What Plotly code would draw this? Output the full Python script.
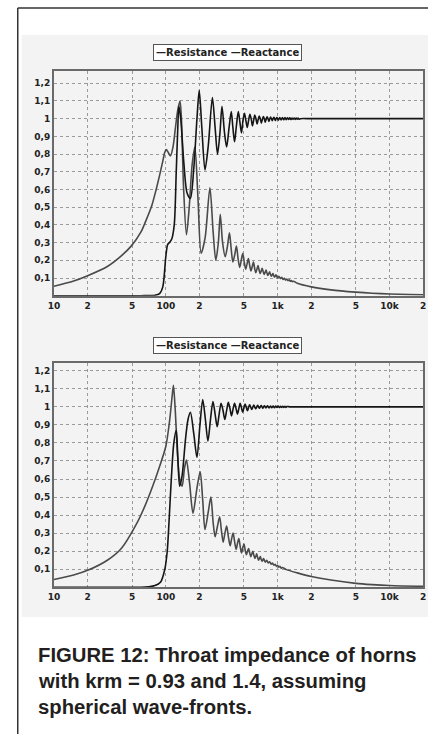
import plotly.graph_objects as go

# ---------------- data ----------------
# Top chart (krm = 0.93)
top_res_f = [10, 30, 60, 80, 88, 94, 100, 104, 108, 113, 119, 124, 128, 131, 136, 145, 155, 166,
             178, 190, 199, 210, 224, 240, 261, 276, 290, 305, 318, 335, 350, 368, 385, 398, 412,
             428, 445, 460, 475, 490, 505, 520, 535, 550, 565, 580, 595, 610, 625, 640, 655, 670,
             685, 700, 715, 730, 745, 760, 775, 790, 805, 820, 835, 850, 865, 880, 895, 910, 925,
             940, 955, 970, 985, 1000, 1015, 1045, 1075, 1105, 1135, 1165, 1195, 1225, 1255, 1285,
             1315, 1345, 1375, 1405, 1435, 1465, 1495, 1525, 1555, 1600, 2000, 5000, 10000, 20000]
top_res_v = [0.0, 0.0, 0.0, 0.003, 0.012, 0.05, 0.22, 0.29, 0.30, 0.32, 0.40, 0.70, 0.95, 1.07, 1.0, 0.75, 0.58, 0.55,
             0.72, 1.0, 1.16, 0.95, 0.71, 0.85, 1.12, 0.95, 0.80, 0.92, 1.07, 0.92, 0.84, 0.95, 1.04, 0.95, 0.87,
             0.96, 1.04, 0.98, 0.92, 0.99, 1.03, 0.99, 0.95, 0.99, 1.025, 1.0, 0.96, 0.99, 1.02, 1.0, 0.97, 0.995,
             1.015, 1.0, 0.975, 0.995, 1.012, 1.0, 0.98, 0.997, 1.01, 1.0, 0.985, 0.998, 1.009, 1.0, 0.988, 0.999, 1.008,
             1.0, 0.99, 1.0, 1.007, 1.0, 0.992, 1.007, 0.993, 1.006, 0.994, 1.006, 0.994, 1.005, 0.995, 1.005,
             0.995, 1.004, 0.996, 1.004, 0.996, 1.003, 0.997, 1.003, 0.997, 1.0, 1.0, 1.0, 1.0, 1.0]

top_rea_f = [10, 15, 20, 30, 40, 49, 60, 67, 75, 82, 88, 94, 98, 101, 105, 110, 116, 122, 128, 134,
             138, 144, 153, 162, 172, 182, 194, 207, 225, 248, 265, 280, 295, 307, 322, 340, 356, 371,
             385, 398, 413, 428, 443, 458, 473, 488, 503, 518, 533, 548, 563, 578, 593, 608, 623, 638,
             653, 668, 683, 698, 713, 728, 743, 758, 773, 788, 803, 818, 833, 848, 863, 878, 893, 908,
             923, 938, 953, 968, 983, 998, 1013, 1028, 1058, 1088, 1118, 1148, 1178, 1208, 1238, 1268,
             1298, 1328, 1358, 1388, 1500, 2000, 3000, 5000, 7000, 10000, 15000, 20000]
top_rea_v = [0.053, 0.083, 0.113, 0.165, 0.225, 0.28, 0.36, 0.43, 0.51, 0.60, 0.68, 0.76, 0.81, 0.825, 0.81, 0.79, 0.84, 0.95, 1.05, 1.10,
             1.0, 0.62, 0.345, 0.50, 0.74, 0.84, 0.55, 0.24, 0.33, 0.61, 0.36, 0.20, 0.30, 0.46, 0.30, 0.22, 0.28, 0.355,
             0.26, 0.19, 0.23, 0.28, 0.21, 0.16, 0.20, 0.24, 0.19, 0.15, 0.18, 0.21, 0.17, 0.14, 0.165, 0.19, 0.155, 0.13,
             0.15, 0.17, 0.145, 0.125, 0.14, 0.155, 0.135, 0.12, 0.132, 0.145, 0.128, 0.115, 0.125, 0.135, 0.12, 0.11,
             0.118, 0.125, 0.113, 0.105, 0.111, 0.118, 0.108, 0.10, 0.105, 0.11, 0.097, 0.104, 0.092, 0.098, 0.088, 0.094,
             0.085, 0.09, 0.082, 0.086, 0.079, 0.082, 0.07, 0.05, 0.033, 0.02, 0.014, 0.01, 0.007, 0.005]

# Bottom chart (krm = 1.4)
bot_res_f = [10, 40, 60, 70, 80, 90, 98, 103, 107, 112, 118, 124, 128, 133, 140, 150, 158, 166,
             178, 190, 202, 214, 226, 238, 251, 264, 276, 288, 300, 312, 325, 337, 350, 362, 375,
             387, 400, 412, 425, 437, 450, 462, 475, 487, 500, 512, 525, 537, 550, 562, 575, 587,
             600, 612, 625, 637, 650, 662, 675, 687, 700, 712, 725, 737, 750, 762, 775, 787, 800,
             812, 825, 837, 862, 887, 912, 937, 962, 987, 1012, 1037, 1062, 1087, 1112, 1137, 1162,
             1187, 1212, 1300, 2000, 5000, 10000, 20000]
bot_res_v = [0.0, 0.0, 0.0, 0.003, 0.01, 0.03, 0.10, 0.20, 0.37, 0.60, 0.80, 0.87, 0.72, 0.56, 0.62, 0.82, 0.93, 0.97,
             0.85, 0.72, 0.90, 1.04, 0.93, 0.81, 0.93, 1.03, 0.96, 0.89, 0.96, 1.02, 0.98, 0.93, 0.98, 1.025, 0.99,
             0.95, 0.99, 1.02, 0.99, 0.96, 0.99, 1.02, 0.995, 0.97, 0.995, 1.015, 0.997, 0.978, 0.997, 1.012, 0.998, 0.985,
             0.998, 1.01, 0.999, 0.99, 0.999, 1.008, 1.0, 0.992, 1.0, 1.007, 1.0, 0.993, 1.0, 1.006, 1.0, 0.994, 1.0,
             1.006, 1.0, 0.994, 1.005, 0.995, 1.005, 0.995, 1.004, 0.996, 1.004, 0.996, 1.003, 0.997, 1.003, 0.997, 1.003,
             0.997, 1.002, 1.0, 1.0, 1.0, 1.0, 1.0]

bot_rea_f = [10, 15, 20, 30, 40, 55, 65, 76, 88, 100, 108, 114, 117, 121, 127, 133, 140, 147, 153,
             163, 175, 190, 203, 214, 224, 240, 253, 265, 276, 290, 303, 315, 326, 338, 350, 363,
             376, 388, 400, 413, 426, 438, 450, 463, 476, 488, 500, 513, 526, 538, 550, 563, 576,
             588, 600, 613, 626, 638, 650, 663, 676, 688, 700, 713, 726, 738, 750, 763, 776, 788,
             800, 825, 850, 875, 900, 925, 950, 975, 1000, 1025, 1050, 1075, 1100, 1200, 1500, 2000,
             3000, 5000, 7000, 10000, 20000]
bot_rea_v = [0.043, 0.068, 0.094, 0.15, 0.215, 0.354, 0.45, 0.557, 0.67, 0.78, 0.92, 1.06, 1.12, 1.0, 0.75, 0.60, 0.56, 0.66, 0.705,
             0.58, 0.41, 0.55, 0.64, 0.48, 0.32, 0.42, 0.50, 0.36, 0.28, 0.34, 0.39, 0.31, 0.25, 0.30, 0.34, 0.28,
             0.23, 0.27, 0.30, 0.25, 0.21, 0.245, 0.27, 0.225, 0.19, 0.22, 0.24, 0.205, 0.18, 0.20, 0.215, 0.19, 0.17,
             0.185, 0.20, 0.178, 0.16, 0.172, 0.185, 0.165, 0.15, 0.16, 0.17, 0.155, 0.145, 0.152, 0.16, 0.148, 0.14, 0.145,
             0.15, 0.135, 0.142, 0.128, 0.134, 0.122, 0.128, 0.116, 0.122, 0.111, 0.116, 0.106, 0.11, 0.098, 0.08, 0.06,
             0.04, 0.022, 0.015, 0.01, 0.005]

x_tickvals = [10, 20, 50, 100, 200, 500, 1000, 2000, 5000, 10000, 20000]
x_ticktext = ["10", "2", "5", "100", "2", "5", "1k", "2", "5", "10k", "2"]
y_tickvals = [0.1, 0.2, 0.3, 0.4, 0.5, 0.6, 0.7, 0.8, 0.9, 1.0, 1.1, 1.2]
y_ticktext = ["0,1", "0,2", "0,3", "0,4", "0,5", "0,6", "0,7", "0,8", "0,9", "1", "1,1", "1,2"]

legend_text = "—Resistance —Reactance"
caption_lines = ["FIGURE 12: Throat impedance of horns",
                 "with krm = 0.93 and 1.4, assuming",
                 "spherical wave-fronts."]

# ---------------- figure ----------------
W, H = 431, 734
def fx(p):
    return p / W
def fy(p):
    return 1 - p / H

RES_COLOR = "#151515"
REA_COLOR = "#4a4a4a"
LW = 1.6

fig = go.Figure()
fig.add_trace(go.Scatter(x=top_rea_f, y=top_rea_v, mode="lines", name="Reactance",
                         line=dict(color=REA_COLOR, width=LW, shape="spline", smoothing=0.8),
                         xaxis="x", yaxis="y", showlegend=False))
fig.add_trace(go.Scatter(x=top_res_f, y=top_res_v, mode="lines", name="Resistance",
                         line=dict(color=RES_COLOR, width=LW, shape="spline", smoothing=0.8),
                         xaxis="x", yaxis="y", showlegend=False))
fig.add_trace(go.Scatter(x=bot_rea_f, y=bot_rea_v, mode="lines", name="Reactance",
                         line=dict(color=REA_COLOR, width=LW, shape="spline", smoothing=0.8),
                         xaxis="x2", yaxis="y2", showlegend=False))
fig.add_trace(go.Scatter(x=bot_res_f, y=bot_res_v, mode="lines", name="Resistance",
                         line=dict(color=RES_COLOR, width=LW, shape="spline", smoothing=0.8),
                         xaxis="x2", yaxis="y2", showlegend=False))

tick_font = dict(family="DejaVu Sans", size=9, color="#222222", weight="bold")

def xaxis_cfg(anchor):
    return dict(type="log", range=[1, 4.30103], domain=[fx(49), fx(426)], anchor=anchor,
                tickvals=x_tickvals, ticktext=x_ticktext, tickfont=tick_font,
                showgrid=True, gridcolor="#9a9a9a", griddash="dot", gridwidth=1,
                showline=True, linecolor="#6a6a6a", linewidth=2, mirror=True,
                ticks="", zeroline=False, fixedrange=True)

def yaxis_cfg(anchor, top, bottom, ymax):
    return dict(range=[0, ymax], domain=[fy(bottom), fy(top)], anchor=anchor,
                tickvals=y_tickvals, ticktext=y_ticktext, tickfont=tick_font,
                showgrid=True, gridcolor="#9a9a9a", griddash="dot", gridwidth=1,
                showline=True, linecolor="#6a6a6a", linewidth=2, mirror=True,
                ticks="", zeroline=False, fixedrange=True)

shapes = [
    # light grey panel behind both charts
    dict(type="rect", xref="paper", yref="paper", x0=fx(16), x1=1.0, y0=fy(617), y1=fy(35),
         fillcolor="#f3f3f3", line=dict(width=0), layer="below"),
    # page border lines
    dict(type="line", xref="paper", yref="paper", x0=fx(12), x1=1.0, y0=fy(8), y1=fy(8),
         line=dict(color="#333333", width=1.5)),
    dict(type="line", xref="paper", yref="paper", x0=fx(12), x1=fx(12), y0=0, y1=fy(8),
         line=dict(color="#333333", width=1.5)),
]

annotations = []
for cy in (52.5, 345):
    annotations.append(dict(xref="paper", yref="paper", x=fx(226), y=fy(cy), xanchor="center", yanchor="middle",
                            text=legend_text, showarrow=False,
                            font=dict(family="DejaVu Sans", size=10, color="#222222", weight="bold"),
                            bgcolor="#ffffff", bordercolor="#555555", borderwidth=1, borderpad=2))

for i, line in enumerate(caption_lines):
    annotations.append(dict(xref="paper", yref="paper", x=fx(31), y=fy(655 + 26 * i), xanchor="left", yanchor="middle",
                            text=line, showarrow=False,
                            font=dict(family="Liberation Sans", size=20.3, color="#231f20", weight="bold")))

fig.update_layout(
    width=W, height=H, margin=dict(l=0, r=0, t=0, b=0),
    paper_bgcolor="#ffffff", plot_bgcolor="#ffffff",
    xaxis=xaxis_cfg("y"), yaxis=yaxis_cfg("x", 70.7, 295.7, 1.271),
    xaxis2=xaxis_cfg("y2"), yaxis2=yaxis_cfg("x2", 363, 587.3, 1.243),
    shapes=shapes, annotations=annotations, showlegend=False,
)

fig.write_html("out.html", config={"displayModeBar": False, "staticPlot": True},
               post_script="document.body.style.margin='0';document.body.style.overflow='hidden';")
